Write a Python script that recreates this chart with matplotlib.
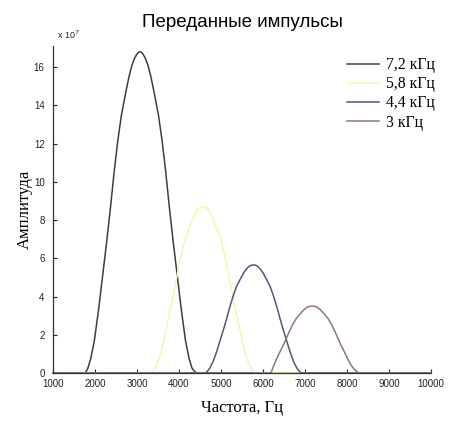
import matplotlib
matplotlib.use('Agg')
import matplotlib.pyplot as plt

# spectra of transmitted pulses, amplitude in units of 1e7
freq_72 = [1000, 1770, 1830, 1900, 1988, 2090, 2188, 2280, 2371, 2460, 2546, 2630, 2744,
           2810, 2880, 2940, 2990, 3040, 3070, 3100, 3150, 3200, 3260, 3330, 3396, 3510,
           3594, 3680, 3769, 3860, 3952, 4050, 4152, 4240, 4310, 4380, 4440, 10000]
amp_72 = [0, 0, 0.25, 0.76, 1.73, 3.4, 5.2, 6.9, 8.7, 10.6, 12.2, 13.5, 14.8,
          15.5, 16.1, 16.45, 16.65, 16.78, 16.8, 16.78, 16.65, 16.45, 16.1, 15.5, 14.8, 13.5,
          12.2, 10.6, 8.7, 6.9, 5.2, 3.4, 1.73, 0.76, 0.25, 0.05, 0, 0]

freq_58 = [1000, 3340, 3395, 3461, 3544, 3640, 3732, 3818, 3904, 3987, 4068, 4147, 4254,
           4318, 4382, 4430, 4476, 4525, 4570, 4615, 4664, 4710, 4758, 4822, 4886, 4993,
           5072, 5153, 5236, 5322, 5408, 5500, 5596, 5679, 5745, 5800, 10000]
amp_58 = [0, 0, 0.13, 0.39, 0.90, 1.74, 2.70, 3.57, 4.52, 5.48, 6.3, 7.0, 7.66,
          8.02, 8.33, 8.5, 8.62, 8.68, 8.7, 8.68, 8.62, 8.5, 8.33, 8.02, 7.66, 7.0,
          6.3, 5.48, 4.52, 3.57, 2.70, 1.74, 0.90, 0.39, 0.13, 0, 0]

freq_44 = [1000, 4620, 4670, 4732, 4809, 4899, 4985, 5066, 5146, 5224, 5300, 5374, 5474,
           5534, 5594, 5640, 5682, 5726, 5770, 5814, 5858, 5900, 5946, 6006, 6066, 6166,
           6240, 6316, 6394, 6474, 6555, 6641, 6731, 6808, 6870, 6920, 10000]
amp_44 = [0, 0, 0.08, 0.25, 0.58, 1.13, 1.75, 2.32, 2.94, 3.56, 4.09, 4.55, 4.97,
          5.22, 5.41, 5.52, 5.6, 5.64, 5.65, 5.64, 5.6, 5.52, 5.41, 5.22, 4.97, 4.55,
          4.09, 3.56, 2.94, 2.32, 1.75, 1.13, 0.58, 0.25, 0.08, 0, 0]

freq_30 = [1000, 6190, 6250, 6316, 6400, 6480, 6558, 6635, 6709, 6782, 6880, 6940, 6997,
           7040, 7084, 7127, 7170, 7213, 7256, 7300, 7343, 7400, 7460, 7558, 7631, 7705,
           7782, 7860, 7940, 8024, 8112, 8188, 8248, 8300, 10000]
amp_30 = [0, 0, 0.36, 0.70, 1.09, 1.44, 1.82, 2.21, 2.54, 2.82, 3.08, 3.23, 3.35,
          3.42, 3.47, 3.495, 3.5, 3.495, 3.47, 3.42, 3.35, 3.23, 3.08, 2.82, 2.54, 2.21,
          1.82, 1.44, 1.09, 0.70, 0.36, 0.16, 0.05, 0, 0]

labels = ['7,2 кГц', '5,8 кГц', '4,4 кГц', '3 кГц']
colors = ['#3c3c44', '#f6f6ac', '#55557a', '#8f7484']

xticks = list(range(1000, 10001, 1000))
yticks = list(range(0, 17, 2))

fig = plt.figure(figsize=(4.73, 4.21), dpi=100)
ax = fig.add_axes([53 / 473, 48 / 421, 378 / 473, 327 / 421])

series = [(freq_72, amp_72), (freq_58, amp_58), (freq_44, amp_44), (freq_30, amp_30)]
for (f, a), lab, col in zip(series, labels, colors):
    ax.plot(f, a, color=col, linewidth=1.1, label=lab, clip_on=False)

ax.set_xlim(1000, 10000)
ax.set_ylim(0, 17.1)
ax.set_xticks(xticks)
ax.set_yticks(yticks)
ax.set_xticklabels([str(t) for t in xticks], family='Liberation Sans', fontsize=7)
ax.set_yticklabels([str(t) for t in yticks], family='Liberation Sans', fontsize=7)
ax.tick_params(direction='in', length=3, width=0.8, colors='#222222')
ax.tick_params(axis='x', pad=4)
ax.tick_params(axis='y', pad=6)
for s in ['top', 'right']:
    ax.spines[s].set_visible(False)
for s in ['left', 'bottom']:
    ax.spines[s].set_color('#333333')
    ax.spines[s].set_linewidth(0.9)

ax.text(0.01, 1.015, r'x 10$^7$', transform=ax.transAxes, fontsize=6.5,
        family='Liberation Sans', ha='left', va='bottom', color='#222222')

ax.set_title('Переданные импульсы', family='Liberation Sans', fontsize=13.5, pad=14)
ax.set_xlabel('Частота, Гц', family='Liberation Serif', fontsize=12, labelpad=8)
ax.set_ylabel('Амплитуда', family='Liberation Serif', fontsize=12, labelpad=1)

leg = ax.legend(loc='upper left', bbox_to_anchor=(0.757, 0.99), frameon=False,
                prop={'family': 'Liberation Serif', 'size': 11.3}, handlelength=2.05,
                handletextpad=0.45, labelspacing=0.2, borderpad=0)

fig.savefig('out.png', dpi=100)
